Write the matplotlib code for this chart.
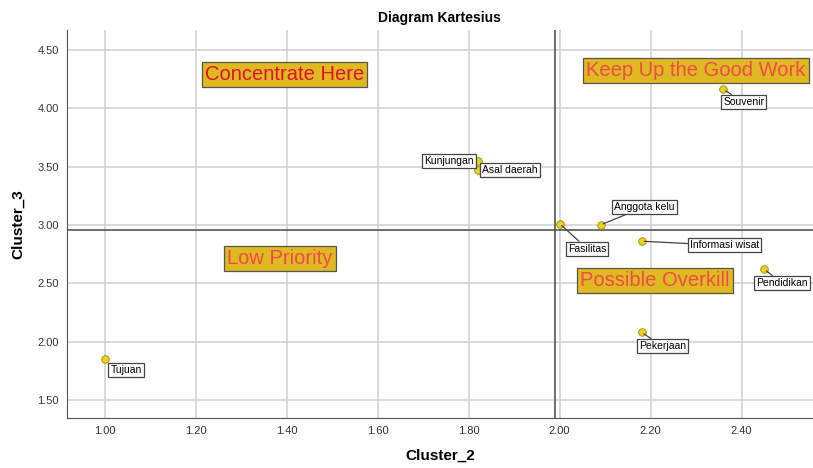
import matplotlib.pyplot as plt
import numpy as np

plt.rcParams['font.family'] = ['Liberation Sans', 'DejaVu Sans']

# data points (Cluster_2, Cluster_3)
names = ['Tujuan', 'Kunjungan', 'Asal daerah', 'Fasilitas', 'Anggota kelu',
         'Informasi wisat', 'Souvenir', 'Pendidikan', 'Pekerjaan']
cluster_2 = [1.00, 1.82, 1.82, 2.00, 2.09, 2.18, 2.36, 2.45, 2.18]
cluster_3 = [1.85, 3.55, 3.47, 3.01, 3.00, 2.86, 4.16, 2.62, 2.08]

# label offsets in points (dx, dy), alignment, leader line
label_offsets = [(4, -8), (-3, 0), (3, 0), (6, -18), (10, 13),
                 (35, -3), (0, -9), (-6, -10), (-2, -10)]
label_ha = ['left', 'right', 'left', 'left', 'left', 'left', 'left', 'left', 'left']
label_line = [False, False, False, True, True, True, True, True, True]

# reference lines (means)
mean_x = 1.989
mean_y = 2.957

xticks = [1.00, 1.20, 1.40, 1.60, 1.80, 2.00, 2.20, 2.40]
yticks = [1.50, 2.00, 2.50, 3.00, 3.50, 4.00, 4.50]

quadrants = ['Concentrate Here', 'Keep Up the Good Work', 'Low Priority', 'Possible Overkill']
quad_x = [1.395, 2.30, 1.385, 2.21]
quad_y = [4.29, 4.32, 2.715, 2.52]
quad_color = ['#e0102a', '#f04a4a', '#f04a4a', '#f04a4a']

fig = plt.figure(figsize=(8.13, 4.68), dpi=100)
ax = fig.add_axes([0.0824, 0.107, 0.917, 0.829])

ax.set_xlim(0.9165, 2.556)
ax.set_ylim(1.346, 4.67)
ax.set_xticks(xticks)
ax.set_yticks(yticks)
ax.set_xticklabels(['%.2f' % v for v in xticks], fontsize=8, color='#333333')
ax.set_yticklabels(['%.2f' % v for v in yticks], fontsize=8, color='#333333')
ax.grid(True, color='#d0d0d0', linewidth=1.1)
ax.set_axisbelow(True)
for s in ['top', 'right']:
    ax.spines[s].set_visible(False)
for s in ['left', 'bottom']:
    ax.spines[s].set_color('#555555')
ax.tick_params(length=0, pad=6)

ax.axhline(mean_y, color='#555555', linewidth=1.2, zorder=2)
ax.axvline(mean_x, color='#555555', linewidth=1.2, zorder=2)

ax.scatter(cluster_2, cluster_3, s=30, facecolor='#e8d21a', edgecolor='#9a8a10',
           linewidth=0.6, zorder=4)

for i, name in enumerate(names):
    arrow = dict(arrowstyle='-', color='#444444', lw=0.9, shrinkA=0, shrinkB=2) if label_line[i] else None
    ax.annotate(name, (cluster_2[i], cluster_3[i]), xytext=label_offsets[i],
                textcoords='offset points', ha=label_ha[i], va='center', fontsize=7.5,
                bbox=dict(boxstyle='square,pad=0.2', fc='white', ec='#444444', lw=0.9),
                arrowprops=arrow, zorder=5)

for i, q in enumerate(quadrants):
    ax.text(quad_x[i], quad_y[i], q, ha='center', va='center', fontsize=14.5,
            color=quad_color[i], zorder=3,
            bbox=dict(boxstyle='square,pad=0.15', fc='#e0b820', ec='#555555', lw=0.9))

ax.set_title('Diagram Kartesius', fontsize=10, fontweight='bold', pad=6)
ax.set_xlabel('Cluster_2', fontsize=11, fontweight='bold', labelpad=9)
ax.set_ylabel('Cluster_3', fontsize=11, fontweight='bold', labelpad=9)

fig.savefig('out.png', dpi=100)
